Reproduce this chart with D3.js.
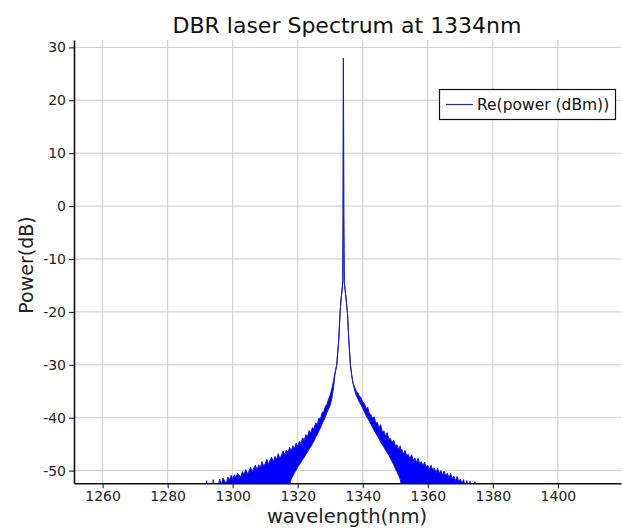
<!DOCTYPE html>
<html>
<head>
<meta charset="utf-8">
<script src="https://cdnjs.cloudflare.com/ajax/libs/d3/7.8.5/d3.min.js"></script>
<style>
    body { margin: 0; background: #fff; }
    text { font-family: "DejaVu Sans", sans-serif; }
</style>
</head>
<body>
<div id="chart"></div>
<script>
// spectrum: the noisy part is kept as its max / min envelope
var wavelength = [
    1291.5, 1292, 1292.5, 1293.5, 1294, 1294.5, 1295.5, 1296, 1296.5, 1297,
    1297.5, 1298, 1298.5, 1299, 1299.5, 1300, 1300.5, 1301, 1301.5, 1302,
    1302.5, 1303, 1303.5, 1304, 1304.5, 1305, 1305.5, 1306, 1306.5, 1307,
    1307.5, 1308, 1308.5, 1309, 1309.5, 1310, 1310.5, 1311, 1311.5, 1312,
    1312.5, 1313, 1313.5, 1314, 1314.5, 1315, 1315.5, 1316, 1316.5, 1317,
    1317.5, 1318, 1318.5, 1319, 1319.5, 1320, 1320.5, 1321, 1321.5, 1322,
    1322.5, 1323, 1323.5, 1324, 1324.5, 1325, 1325.5, 1326, 1326.5, 1327,
    1327.5, 1328, 1328.5, 1329, 1329.5, 1330, 1330.5, 1331, 1331.4, 1332.0,
    1332.3, 1332.6, 1333.0, 1333.3, 1333.6, 1333.85, 1333.95, 1334.05, 1334.15, 1334.3,
    1334.6, 1334.9, 1335.3, 1335.7, 1336.2, 1336.6, 1337.0, 1337.5, 1338, 1338.5,
    1339, 1339.5, 1340, 1340.5, 1341, 1341.5, 1342, 1342.5, 1343, 1343.5,
    1344, 1344.5, 1345, 1345.5, 1346, 1346.5, 1347, 1347.5, 1348, 1348.5,
    1349, 1349.5, 1350, 1350.5, 1351, 1351.5, 1351.8, 1352, 1352.5, 1353,
    1353.5, 1354, 1354.5, 1355, 1355.5, 1356, 1356.5, 1357, 1357.5, 1358,
    1358.5, 1359, 1359.5, 1360, 1360.5, 1361, 1361.5, 1362, 1362.5, 1363,
    1363.5, 1364, 1364.5, 1365, 1365.5, 1366, 1366.5, 1367, 1367.5, 1368,
    1368.5, 1369, 1369.5, 1370, 1370.5, 1371, 1371.5, 1372, 1372.5, 1373,
    1373.5, 1374.5, 1375
];
var powerHigh = [
    -60, -51.9, -60, -60, -51.7, -60, -53.0, -51.6, -52.8, -51.4,
    -51.9, -52.6, -51.2, -51.8, -50.9, -51.5, -50.8, -51.3, -50.5, -50.9,
    -51.2, -50.2, -50.7, -49.8, -50.6, -50.1, -49.4, -50.2, -49.5, -49.0,
    -49.9, -48.9, -49.5, -48.3, -49.1, -48.7, -47.9, -48.8, -48.0, -47.5,
    -48.4, -47.3, -47.9, -46.8, -47.7, -47.1, -46.3, -47.0, -46.1, -46.6,
    -45.6, -46.3, -45.3, -45.9, -44.8, -45.4, -44.5, -44.9, -43.8, -44.3,
    -43.2, -43.6, -42.4, -42.9, -41.9, -42.1, -41.0, -41.3, -40.1, -40.2,
    -39.0, -38.9, -37.8, -37.5, -36.4, -35.7, -34.5, -33.0, -31.6, -30.0,
    -27.6, -25.3, -20.3, -17.7, -16.0, -14.3, -1.7, 28.0, -1.7, -14.3,
    -16.0, -17.7, -20.3, -25.3, -30.0, -32.0, -33.5, -34.2, -35.0, -35.3,
    -36.0, -36.2, -37.1, -37.3, -38.3, -38.0, -39.2, -39.4, -40.2, -39.8,
    -41.0, -40.9, -41.9, -41.3, -42.7, -42.5, -43.5, -42.8, -44.1, -43.9,
    -44.8, -44.2, -45.4, -45.1, -46.0, -45.3, -46.3, -46.0, -46.9, -46.2,
    -47.2, -46.9, -47.8, -47.0, -48.0, -47.6, -48.5, -47.7, -48.7, -48.3,
    -49.1, -48.4, -49.3, -49.0, -49.8, -49.0, -49.9, -49.5, -50.4, -49.6,
    -50.5, -50.0, -50.9, -50.1, -51.0, -50.5, -51.4, -50.5, -51.5, -51.0,
    -51.9, -51.1, -52.0, -51.6, -52.4, -51.7, -53.0, -51.9, -53.2, -52.0,
    -53.5, -52.1, -60
];
var powerLow = [
    -60, -60, -60, -60, -60, -60, -60, -60, -60, -60,
    -60, -60, -60, -60, -60, -60, -60, -60, -60, -60,
    -60, -60, -60, -60, -60, -60, -60, -60, -60, -60,
    -60, -60, -60, -60, -60, -60, -60, -60, -60, -60,
    -60, -60, -60, -60, -60, -60, -60, -60, -60, -60,
    -52.6, -51.6, -51.0, -50.4, -49.9, -49.3, -48.9, -48.4, -47.9, -47.5,
    -46.9, -46.5, -45.9, -45.5, -44.9, -44.4, -43.7, -43.2, -42.5, -41.9,
    -41.2, -40.5, -39.8, -39.0, -38.3, -37.6, -36.3, -34.4, -32.0, -30.0,
    -27.6, -25.3, -20.3, -17.7, -16.0, -14.3, -1.7, 28.0, -1.7, -14.3,
    -16.0, -17.7, -20.3, -25.3, -30.0, -32.0, -33.5, -34.8, -35.8, -36.4,
    -37.1, -37.6, -38.3, -38.9, -39.6, -40.1, -40.7, -41.2, -41.8, -42.4,
    -42.9, -43.5, -44.0, -44.6, -45.1, -45.6, -46.1, -46.6, -47.1, -47.7,
    -48.3, -48.9, -49.6, -50.2, -50.9, -51.6, -52.6, -60, -60, -60,
    -60, -60, -60, -60, -60, -60, -60, -60, -60, -60,
    -60, -60, -60, -60, -60, -60, -60, -60, -60, -60,
    -60, -60, -60, -60, -60, -60, -60, -60, -60, -60,
    -60, -60, -60, -60, -60, -60, -60, -60, -60, -60,
    -60, -60, -60
];
var xTicks = [1260, 1280, 1300, 1320, 1340, 1360, 1380, 1400];
var yTicks = [-50, -40, -30, -20, -10, 0, 10, 20, 30];
var seriesName = "Re(power (dBm))";

drawSpectrum("#chart");

function drawSpectrum(pos) {
    var margin = { top: 40, right: 1, bottom: 46.7, left: 74 };
    var width = 622 - margin.left - margin.right;
    var height = 530 - margin.top - margin.bottom;

    var x = d3.scaleLinear()
        .domain([1251.2, 1419.4])
        .range([0, width]);

    var y = d3.scaleLinear()
        .domain([-52.4, 31.4])
        .range([height, 0]);

    var svg = d3.select(pos).append("svg")
        .attr("width", 622)
        .attr("height", 530);

    svg.append("text")
        .attr("x", 347)
        .attr("y", 33)
        .attr("text-anchor", "middle")
        .style("font-size", "22px")
        .style("fill", "#111")
        .text("DBR laser Spectrum at 1334nm");

    var g = svg.append("g")
        .attr("transform", "translate(" + margin.left + "," + margin.top + ")");

    // grid
    g.selectAll(".vgrid")
        .data(xTicks)
        .enter().append("line")
        .attr("class", "vgrid")
        .attr("x1", function(d) { return x(d); })
        .attr("x2", function(d) { return x(d); })
        .attr("y1", 0)
        .attr("y2", height)
        .style("stroke", "#cdcdcd")
        .style("stroke-width", 1);

    g.selectAll(".hgrid")
        .data(yTicks)
        .enter().append("line")
        .attr("class", "hgrid")
        .attr("x1", 0)
        .attr("x2", width)
        .attr("y1", function(d) { return y(d); })
        .attr("y2", function(d) { return y(d); })
        .style("stroke", "#cdcdcd")
        .style("stroke-width", 1);

    svg.append("clipPath")
        .attr("id", "plotclip")
        .append("rect")
        .attr("width", width)
        .attr("height", height);

    var rows = wavelength.map(function(w, i) {
        return { w: w, hi: powerHigh[i], lo: powerLow[i] };
    });

    var area = d3.area()
        .x(function(d) { return x(d.w); })
        .y0(function(d) { return y(d.lo); })
        .y1(function(d) { return y(d.hi); });

    g.append("path")
        .datum(rows)
        .attr("clip-path", "url(#plotclip)")
        .attr("d", area)
        .style("fill", "#0000ff")
        .style("stroke", "#1a1ad0")
        .style("stroke-width", 1);

    // axes
    var xAxis = g.append("g")
        .attr("transform", "translate(0," + height + ")")
        .call(d3.axisBottom(x).tickValues(xTicks).tickSize(5).tickSizeOuter(0)
            .tickFormat(function(d) { return String(d); }));

    var yAxis = g.append("g")
        .call(d3.axisLeft(y).tickValues(yTicks).tickSize(5).tickSizeOuter(0)
            .tickFormat(function(d) { return String(d); }));

    [xAxis, yAxis].forEach(function(a) {
        a.select(".domain").style("stroke", "#111").style("stroke-width", 1.6);
        a.selectAll(".tick line").style("stroke", "#111");
        a.selectAll(".tick text")
            .style("font-family", "\"DejaVu Sans\", sans-serif")
            .style("font-size", "14px")
            .style("fill", "#222");
    });
    yAxis.selectAll(".tick text").attr("x", -8);

    svg.append("text")
        .attr("x", 347)
        .attr("y", 523)
        .attr("text-anchor", "middle")
        .style("font-size", "19.5px")
        .style("fill", "#222")
        .text("wavelength(nm)");

    svg.append("text")
        .attr("transform", "translate(26,265) rotate(-90)")
        .attr("dy", "0.35em")
        .attr("text-anchor", "middle")
        .style("font-size", "19px")
        .style("fill", "#222")
        .text("Power(dB)");

    // legend
    var legend = svg.append("g");
    legend.append("rect")
        .attr("x", 439.5)
        .attr("y", 89.5)
        .attr("width", 176)
        .attr("height", 30)
        .style("fill", "#fff")
        .style("stroke", "#111")
        .style("stroke-width", 1.2);
    legend.append("line")
        .attr("x1", 446)
        .attr("x2", 473)
        .attr("y1", 104.5)
        .attr("y2", 104.5)
        .style("stroke", "#2a2ab0")
        .style("stroke-width", 1.2);
    legend.append("text")
        .attr("x", 477)
        .attr("y", 109.5)
        .style("font-size", "15.5px")
        .style("fill", "#111")
        .text(seriesName);
}
</script>
</body>
</html>
